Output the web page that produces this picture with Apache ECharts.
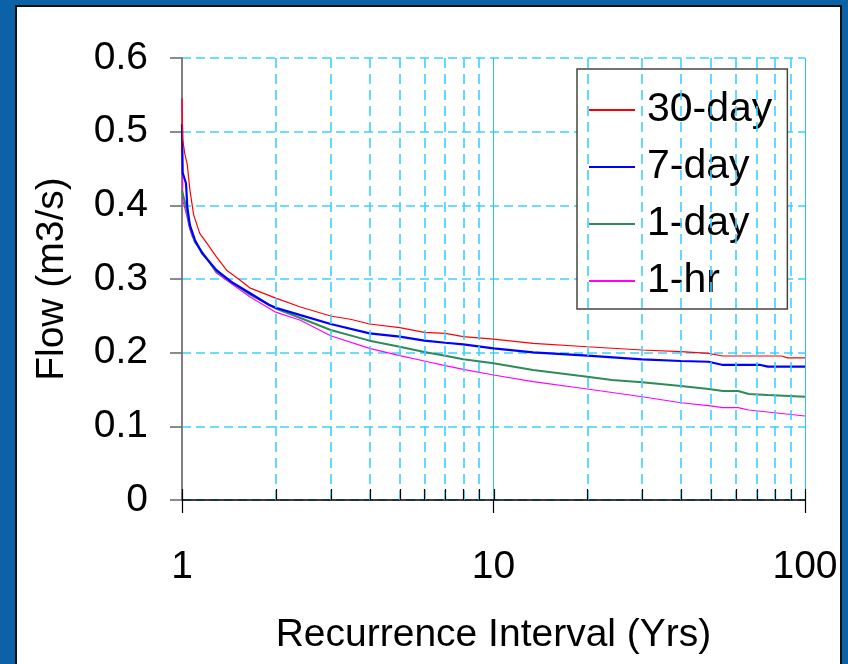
<!DOCTYPE html>
<html><head><meta charset="utf-8">
<script src="https://cdn.jsdelivr.net/npm/echarts@6/dist/echarts.min.js"></script>
<style>
html,body{margin:0;padding:0;width:848px;height:664px;overflow:hidden;background:#0b62a6;}
#panel{position:absolute;left:15px;top:5px;width:827px;height:680px;background:#fff;border:2px solid #111;box-sizing:border-box;}
#chart{position:absolute;left:0;top:0;width:848px;height:664px;}
</style></head><body>
<div id="panel"></div><div id="chart"></div>
<script>
const seriesNames = ['30-day', '7-day', '1-day', '1-hr'];

const x30 = [1, 1.005, 1.02, 1.04, 1.06, 1.09, 1.14, 1.2, 1.29, 1.39, 1.53, 1.65, 2.0, 2.4, 3.0, 3.5, 4, 5, 6, 7, 8, 10, 13.4, 20, 30, 40, 49, 54.5, 84, 88, 100];
const y30 = [0.545, 0.49, 0.471, 0.455, 0.421, 0.387, 0.362, 0.349, 0.33, 0.312, 0.299, 0.288, 0.274, 0.262, 0.2498, 0.245, 0.2389, 0.234, 0.2276, 0.2262, 0.2217, 0.2185, 0.2127, 0.208, 0.2036, 0.2013, 0.199, 0.1955, 0.1955, 0.193, 0.193];

const x7 = [1, 1.005, 1.03, 1.04, 1.06, 1.1, 1.16, 1.29, 1.44, 1.65, 1.9, 2.0, 2.4, 3, 4, 5, 6, 7, 8, 10, 13.4, 20, 30, 40, 49, 54.5, 72, 76, 100];
const y7 = [0.51, 0.444, 0.43, 0.398, 0.373, 0.353, 0.335, 0.312, 0.296, 0.281, 0.265, 0.261, 0.251, 0.2389, 0.2262, 0.2217, 0.2163, 0.2135, 0.2113, 0.2059, 0.2004, 0.196, 0.191, 0.1887, 0.1877, 0.1833, 0.1833, 0.181, 0.181];

const x1d = [1, 1.01, 1.03, 1.06, 1.1, 1.29, 1.65, 2.0, 2.4, 3, 4, 5, 6, 7, 8, 10, 13.4, 20, 24, 30, 40, 49, 54.5, 61, 66, 76, 100];
const y1d = [0.42, 0.418, 0.398, 0.371, 0.35, 0.31, 0.279, 0.26, 0.247, 0.2308, 0.2163, 0.2081, 0.2009, 0.1959, 0.191, 0.1856, 0.1765, 0.1674, 0.163, 0.1597, 0.1547, 0.1507, 0.148, 0.148, 0.1439, 0.1425, 0.1402];

const x1h = [1, 1.005, 1.03, 1.06, 1.08, 1.14, 1.29, 1.65, 2.0, 2.4, 3, 4, 5, 6, 7, 8, 10, 13.4, 20, 30, 40, 49, 54.5, 61, 66, 100];
const y1h = [0.545, 0.407, 0.39, 0.367, 0.357, 0.342, 0.308, 0.276, 0.255, 0.244, 0.223, 0.2059, 0.1959, 0.1887, 0.1823, 0.1774, 0.1697, 0.1606, 0.1507, 0.1402, 0.132, 0.128, 0.1253, 0.1253, 0.1222, 0.114];

const majorTicks = [1, 10, 100];
const minorTicks = [2, 3, 4, 5, 6, 7, 8, 9, 20, 30, 40, 50, 60, 70, 80, 90];

const FONT = "'Liberation Sans', Arial, sans-serif";
const CYAN = '#3fd0ff';

function pairs(xs, ys) { return xs.map((x, i) => [x, ys[i]]); }

const allTicks = majorTicks.concat(minorTicks);

const chart = echarts.init(document.getElementById('chart'), null, {renderer: 'canvas'});
const option = {
  animation: false,
  backgroundColor: 'transparent',
  textStyle: {fontFamily: FONT},
  grid: {left: 182, right: 43, top: 58, bottom: 164, containLabel: false},
  legend: {
    data: seriesNames, orient: 'vertical', left: 577, top: 69,
    backgroundColor: '#fff', borderColor: '#444', borderWidth: 1.5,
    padding: [19, 15, 6, 12], itemGap: 13, itemWidth: 46, itemHeight: 2, icon: 'rect',
    selectedMode: false,
    textStyle: {fontSize: 41, color: '#000', fontFamily: FONT, lineHeight: 44, padding: [0, 0, 0, 7]}
  },
  xAxis: {
    type: 'log', logBase: 10, min: 1, max: 100,
    name: 'Recurrence Interval (Yrs)', nameLocation: 'middle', nameGap: 116,
    nameTextStyle: {fontSize: 39, color: '#000', fontFamily: FONT},
    axisLine: {show: true, onZero: false, lineStyle: {color: '#000', width: 1.5}},
    axisTick: {show: true, inside: false, length: 13, lineStyle: {color: '#000', width: 1.2}},
    axisLabel: {fontSize: 39, color: '#000', margin: 48, fontFamily: FONT},
    splitLine: {show: true, lineStyle: {color: '#22c8f5', width: 1, type: 'solid'}},
    minorTick: {show: false}, minorSplitLine: {show: false}
  },
  yAxis: {
    type: 'value', min: 0, max: 0.6, interval: 0.1,
    name: 'Flow (m3/s)', nameLocation: 'middle', nameGap: 110, nameRotate: 90,
    nameTextStyle: {fontSize: 39, color: '#000', fontFamily: FONT},
    axisLine: {show: true, lineStyle: {color: '#808080', width: 2}},
    axisTick: {show: true, length: 12, lineStyle: {color: '#666', width: 1.5}},
    axisLabel: {fontSize: 39, color: '#000', margin: 34, fontFamily: FONT},
    splitLine: {show: true, lineStyle: {color: CYAN, width: 1.6, type: [9, 5]}}
  },
  series: [
    {
      type: 'line', name: 'grid', data: [], z: 1, silent: true,
      markLine: {
        silent: true, symbol: 'none', label: {show: false},
        lineStyle: {color: CYAN, width: 1.6, type: [10, 6]},
        data: minorTicks.map(v => ({xAxis: v}))
      }
    },
    {
      type: 'custom', name: 'ticks', silent: true, z: 10, clip: false,
      data: allTicks.map(v => [v, 0]),
      encode: {x: 0, y: 1},
      renderItem: function (params, api) {
        const p = api.coord([api.value(0), api.value(1)]);
        const x = Math.round(p[0]) + 0.5;
        return {type: 'line', z2: 100, shape: {x1: x, y1: p[1], x2: x, y2: p[1] - 11}, style: {stroke: '#000', lineWidth: 1.2, fill: null}};
      }
    },
    {type: 'line', name: '1-hr', data: pairs(x1h, y1h), showSymbol: false, lineStyle: {color: '#ff00ff', width: 1.2}, itemStyle: {color: '#ff00ff'}, z: 2},
    {type: 'line', name: '1-day', data: pairs(x1d, y1d), showSymbol: false, lineStyle: {color: '#2e8b57', width: 2}, itemStyle: {color: '#2e8b57'}, z: 2},
    {type: 'line', name: '7-day', data: pairs(x7, y7), showSymbol: false, lineStyle: {color: '#0000ff', width: 2.2}, itemStyle: {color: '#0000ff'}, z: 2},
    {type: 'line', name: '30-day', data: pairs(x30, y30), showSymbol: false, lineStyle: {color: '#ff0000', width: 1.2}, itemStyle: {color: '#ff0000'}, z: 2}
  ]
};
chart.setOption(option);
</script>
</body></html>
